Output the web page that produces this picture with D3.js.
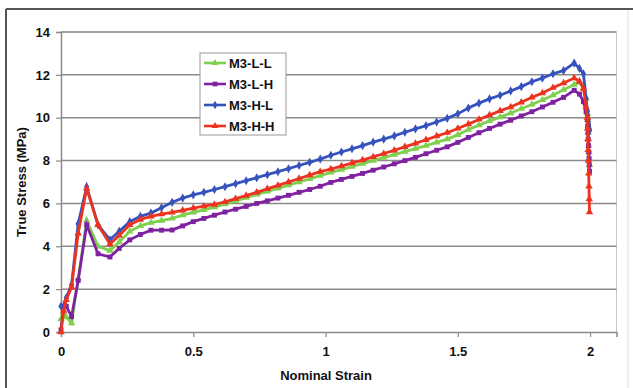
<!DOCTYPE html>
<html><head><meta charset="utf-8">
<script src="https://cdn.jsdelivr.net/npm/d3@7"></script>
<style>body{margin:0;background:#fff}svg{display:block}text{font-family:Arial,"Liberation Sans",sans-serif;font-weight:bold;fill:#111}</style>
</head><body><svg id="c" width="633" height="388"></svg>
<script>
const strain = [0,0.01,0.02,0.04,0.065,0.097,0.14,0.185,0.22,0.26,0.30,0.34,
 0.38,0.42,0.46,0.50,0.54,0.58,0.62,0.66,0.70,0.74,0.78,0.82,0.86,0.90,0.94,0.98,
 1.02,1.06,1.10,1.14,1.18,1.22,1.26,1.30,1.34,1.38,1.42,1.46,1.50,1.54,1.58,1.62,
 1.66,1.70,1.74,1.78,1.82,1.86,1.90,1.94];
const tailStrain = [1.96,1.975,1.985,1.99,1.991,1.992,1.993,1.994,1.995,1.996,1.997,1.998];
const seriesNames = ["M3-L-L","M3-L-H","M3-H-L","M3-H-H"];
const LL = [0.6,0.9,0.7,0.42,2.5,5.2,4.0,3.8,4.2,4.7,4.95,5.1,
 5.20,5.30,5.45,5.58,5.70,5.83,5.97,6.12,6.27,6.42,6.56,6.70,6.85,7.00,7.15,7.30,
 7.45,7.58,7.72,7.86,8.00,8.14,8.28,8.42,8.56,8.70,8.85,9.00,9.20,9.45,9.65,9.85,
 10.03,10.22,10.42,10.62,10.83,11.05,11.30,11.55];
const LLtail = [11.65,11.35,10.9,10.2,9.9,9.6,9.3,9.0,8.7,8.4,8.1,7.8];
const LH = [0.1,1.2,1.2,0.72,2.4,5.0,3.65,3.5,3.9,4.3,4.55,4.75,
 4.75,4.76,4.95,5.15,5.30,5.45,5.60,5.73,5.86,6.00,6.12,6.25,6.38,6.52,6.65,6.80,
 6.98,7.12,7.26,7.40,7.55,7.70,7.85,8.00,8.15,8.32,8.48,8.64,8.85,9.08,9.30,9.50,
 9.70,9.88,10.08,10.28,10.50,10.72,10.95,11.28];
const LHtail = [11.1,10.75,10.28,9.9,9.6,9.3,9.0,8.7,8.4,8.1,7.8,7.5];
const HL = [1.2,1.2,1.6,2.2,5.05,6.78,5.0,4.3,4.7,5.15,5.4,5.55,
 5.80,6.05,6.25,6.40,6.52,6.65,6.78,6.92,7.06,7.20,7.34,7.48,7.62,7.77,7.92,8.07,
 8.25,8.40,8.55,8.70,8.86,9.00,9.15,9.32,9.48,9.63,9.80,9.97,10.18,10.45,10.68,10.88,
 11.05,11.25,11.45,11.68,11.85,12.05,12.20,12.55];
const HLtail = [12.3,12.05,10.9,10.3,10.1,9.95,9.8,9.7,9.6,9.5,9.45,9.4];
const HH = [0,1.0,1.5,2.1,4.6,6.7,5.0,4.1,4.5,5.0,5.25,5.4,
 5.50,5.58,5.68,5.78,5.87,5.95,6.07,6.22,6.37,6.52,6.68,6.84,7.00,7.16,7.32,7.48,
 7.60,7.74,7.88,8.02,8.17,8.32,8.48,8.64,8.80,8.97,9.14,9.30,9.50,9.70,9.92,10.12,
 10.32,10.50,10.72,10.95,11.15,11.40,11.62,11.85];
const HHtail = [11.7,11.37,10.5,10.0,9.5,9.0,8.5,8.0,7.4,6.8,6.2,5.6];
const xTicks = [0,0.5,1,1.5,2];
const yTicks = [0,2,4,6,8,10,12,14];

const colors = ["#7fd04e","#7e22a0","#3552bd","#ec3320"];
const shapes = [d3.symbolTriangle,d3.symbolSquare,d3.symbolDiamond,d3.symbolTriangle];
const vals = [LL,LH,HL,HH], tails=[LLtail,LHtail,HLtail,HHtail];

const svg = d3.select("#c");
svg.append("line").attr("x1",6).attr("x2",633).attr("y1",9).attr("y2",9).attr("stroke","#555").attr("stroke-width",2);
svg.append("line").attr("x1",6).attr("x2",6).attr("y1",9).attr("y2",388).attr("stroke","#555").attr("stroke-width",2);
svg.append("line").attr("x1",628).attr("x2",628).attr("y1",10).attr("y2",388).attr("stroke","#ddd").attr("stroke-width",1);

const x = d3.scaleLinear().domain([0,2.1]).range([61,616.5]);
const y = d3.scaleLinear().domain([0,14]).range([332,32]);

svg.append("path").attr("d",`M${x(0)},${y(14)}H${x(2.1)}V${y(0)}`).attr("fill","none").attr("stroke","#c8c8c8").attr("stroke-width",1);
svg.append("g").selectAll("line").data(yTicks.filter(d=>d>0)).join("line")
 .attr("x1",x(0)).attr("x2",x(2.1)).attr("y1",d=>y(d)).attr("y2",d=>y(d))
 .attr("stroke","#8a8a8a").attr("stroke-width",1.5);

const yAxis = svg.append("g").attr("transform",`translate(${x(0)},0)`)
 .call(d3.axisLeft(y).tickValues(yTicks).tickSize(5).tickPadding(6).tickFormat(d3.format("d")));
const xAxis = svg.append("g").attr("transform",`translate(0,${y(0)})`)
 .call(d3.axisBottom(x).tickValues(xTicks).tickSize(5).tickPadding(10).tickFormat(d=>d));
[yAxis,xAxis].forEach(a=>{
 a.select(".domain").attr("stroke","#8a8a8a").attr("stroke-width",1.5);
 a.selectAll(".tick line").attr("stroke","#8a8a8a").attr("stroke-width",1.2);
 a.selectAll("text").style("font-size","13px").style("font-weight","bold").attr("fill","#111");
});

const line = d3.line().x(d=>x(d[0])).y(d=>y(d[1]));
vals.forEach((v,i)=>{
 const pts = strain.map((s,j)=>[s,v[j]]).concat(tailStrain.map((s,j)=>[s,tails[i][j]]));
 const g = svg.append("g");
 g.append("path").attr("d",line(pts)).attr("fill","none").attr("stroke",colors[i]).attr("stroke-width",2.8);
 g.selectAll("path.m").data(pts).join("path").attr("class","m")
  .attr("transform",d=>`translate(${x(d[0])},${y(d[1])})`)
  .attr("d",d3.symbol().type(shapes[i]).size(24)).attr("fill",colors[i]);
});

const lg = svg.append("g");
lg.append("rect").attr("x",200).attr("y",53).attr("width",86).attr("height",82).attr("fill","#fff").attr("stroke","#999").attr("stroke-width",1);
seriesNames.forEach((n,i)=>{
 const yy = 63 + i*21;
 lg.append("line").attr("x1",204).attr("x2",226).attr("y1",yy).attr("y2",yy).attr("stroke",colors[i]).attr("stroke-width",2.6);
 lg.append("path").attr("transform",`translate(215,${yy})`).attr("d",d3.symbol().type(shapes[i]).size(22)).attr("fill",colors[i]);
 lg.append("text").attr("x",229).attr("y",yy+4.5).style("font-size","13px").text(n);
});

svg.append("text").attr("transform","translate(26,182) rotate(-90)").attr("text-anchor","middle").style("font-size","13px").text("True Stress (MPa)");
svg.append("text").attr("x",326).attr("y",380).attr("text-anchor","middle").style("font-size","13px").text("Nominal Strain");
</script></body></html>
